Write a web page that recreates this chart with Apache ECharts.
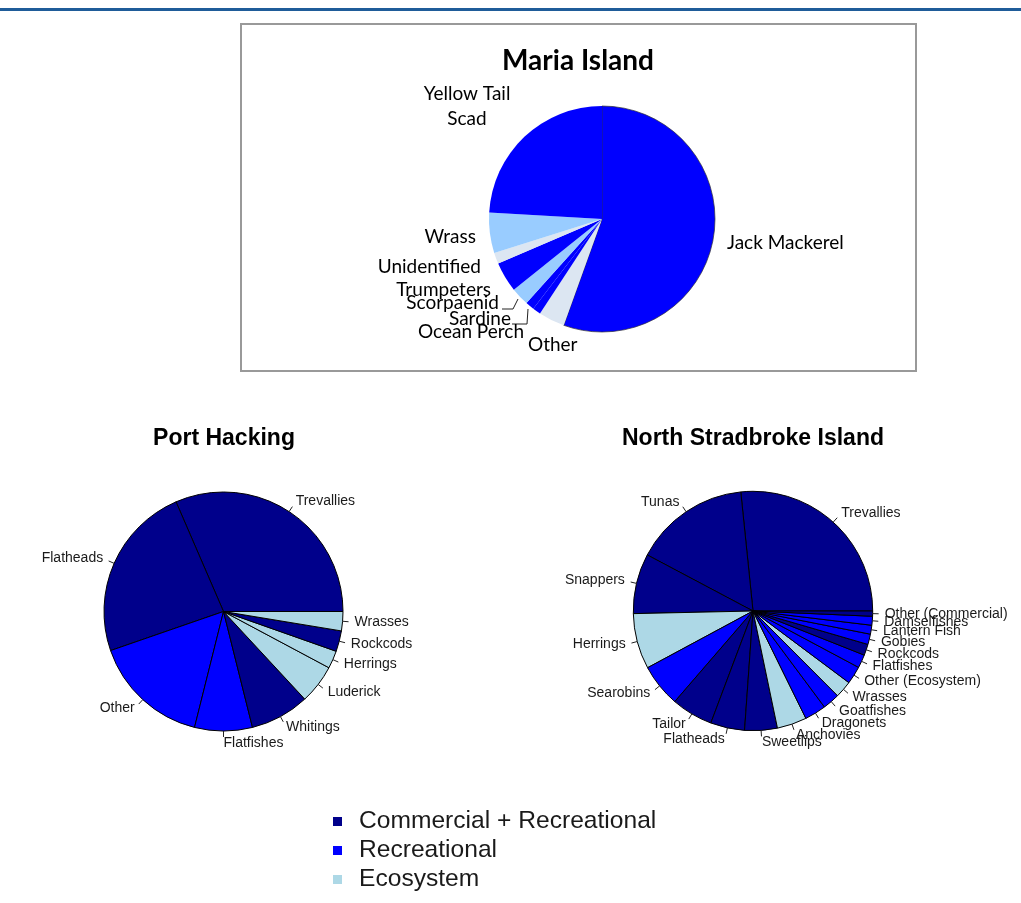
<!DOCTYPE html>
<html><head><meta charset="utf-8">
<script src="https://cdn.jsdelivr.net/npm/echarts@6/dist/echarts.min.js"></script>
<style>html,body{margin:0;padding:0;background:#fff}#c{width:1021px;height:903px}</style>
</head><body><div id="c"></div>
<script>
// ---------- data ----------
const mariaNames  = ['Jack Mackerel','Other','Ocean Perch','Sardine','Scorpaenid','Trumpeters','Unidentified','Wrass','Yellow Tail Scad'];
const mariaValues = [55.5, 3.75, 1.15, 1.25, 2.6, 4.3, 1.6, 5.75, 24.1];
const mariaGroups = ['R','O','R','R','E','R','O','E','R'];

const phNames  = ['Trevallies','Flatheads','Other','Flatfishes','Whitings','Luderick','Herrings','Rockcods','Wrasses'];
const phValues = [31.5, 23.8, 15.8, 7.8, 8.0, 5.3, 2.4, 2.8, 2.6];
const phGroups = ['CR','CR','R','R','CR','E','E','CR','E'];

const nsiNames  = ['Trevallies','Tunas','Snappers','Herrings','Searobins','Tailor','Flatheads','Sweetlips','Anchovies','Dragonets','Goatfishes','Wrasses','Other (Ecosystem)','Flatfishes','Rockcods','Gobies','Lantern Fish','Damselfishes','Other (Commercial)'];
const nsiValues = [26.6, 15.6, 8.1, 7.5, 5.8, 5.6, 4.6, 4.4, 4.0, 2.9, 2.3, 2.3, 2.4, 1.8, 1.5, 1.4, 1.2, 1.2, 0.7];
const nsiGroups = ['CR','CR','CR','E','R','CR','CR','CR','E','R','R','E','R','R','CR','R','R','R','CR'];

const legendNames  = ['Commercial + Recreational','Recreational','Ecosystem'];
const legendGroups = ['CR','R','E'];

// ---------- styles / layout ----------
const groupColor = {CR:'#00008B', R:'#0000FF', E:'#ADD8E6'};
const mariaColor = {R:'#0000FF', E:'#99CCFF', O:'#DCE6F2'};
const mariaLabelPos = {
  'Jack Mackerel':[727,243,'left'], 'Other':[528,345,'left'], 'Ocean Perch':[524,332,'right'],
  'Sardine':[511,319,'right'], 'Scorpaenid':[499,303,'right'], 'Trumpeters':[491,290,'right'],
  'Unidentified':[481,267,'right'], 'Wrass':[476,237,'right'], 'Yellow Tail Scad':[467,106,'center']
};
const mariaLeaders = {
  'Scorpaenid':[[502,309],[513,309],[518,299]],
  'Sardine':[[512,324],[527,324],[528,309]]
};

const RFONT = 'Liberation Sans, Arial, sans-serif';
const CFONT = 'Lato, Carlito, Calibri, sans-serif';
const noHide = {hideOverlap:false, moveOverlap:null};

function rPie(names, values, groups, center, r) {
  const data = names.map((n,i)=>({name:n, value:values[i], itemStyle:{color:groupColor[groups[i]]}}));
  const labels = {
    type:'pie', center:center, radius:r, startAngle:0, clockwise:false, avoidLabelOverlap:false,
    silent:true, animation:false, labelLayout:noHide,
    itemStyle:{borderColor:'#000', borderWidth:1},
    label:{show:true, position:'outside', fontFamily:RFONT, fontSize:14, color:'#1a1a1a', distanceToLabelLine:0},
    labelLine:{show:false, length:r*0.1, length2:0.01},
    emphasis:{disabled:true},
    data:data
  };
  const ticks = {
    type:'pie', center:center, radius:r, startAngle:0, clockwise:false, avoidLabelOverlap:false,
    silent:true, animation:false, z:3, labelLayout:noHide,
    itemStyle:{color:'rgba(0,0,0,0)', borderWidth:0},
    label:{show:true, position:'outside', formatter:' ', fontSize:2},
    labelLine:{show:true, length:r*0.05, length2:0.01, lineStyle:{color:'#222', width:1}},
    emphasis:{disabled:true},
    data:names.map((n,i)=>({name:n, value:values[i]}))
  };
  return [labels, ticks];
}

const mariaData = mariaNames.map((n,i)=>{
  const d = {name:n, value:mariaValues[i], itemStyle:{color:mariaColor[mariaGroups[i]]}};
  if (n === 'Jack Mackerel') { d.itemStyle.borderColor = '#333'; d.itemStyle.borderWidth = 0.7; }
  if (n === 'Yellow Tail Scad') d.label = {formatter:'Yellow Tail\nScad', lineHeight:25, align:'center'};
  if (mariaLeaders[n]) d.labelLine = {show:true, lineStyle:{color:'#222', width:1}};
  return d;
});

const chart = echarts.init(document.getElementById('c'), null, {renderer:'canvas'});
chart.setOption({
  animation:false,
  backgroundColor:'#fff',
  title:[
    {text:'Maria Island', left:578, top:47, textAlign:'center', padding:0,
     textStyle:{fontFamily:CFONT, fontWeight:'bold', fontSize:28, color:'#000'}},
    {text:'Port Hacking', left:224, top:427, textAlign:'center', padding:0,
     textStyle:{fontFamily:RFONT, fontWeight:'bold', fontSize:23, color:'#000'}},
    {text:'North Stradbroke Island', left:753, top:427, textAlign:'center', padding:0,
     textStyle:{fontFamily:RFONT, fontWeight:'bold', fontSize:23, color:'#000'}}
  ],
  legend:{orient:'vertical', left:333, top:809, itemWidth:9, itemHeight:9, itemGap:4, icon:'rect',
    padding:0, selectedMode:false, data:legendNames,
    textStyle:{fontFamily:RFONT, fontSize:24.6, color:'#1a1a1a', padding:[0,0,0,12]}},
  graphic:[
    {type:'rect', shape:{x:0, y:8, width:1021, height:3}, style:{fill:'#1F5C99'}},
    {type:'rect', shape:{x:241, y:24, width:675, height:347}, style:{fill:'none', stroke:'#999', lineWidth:2}}
  ],
  series:[
    {type:'pie', center:[602,219], radius:113, startAngle:90, clockwise:true, avoidLabelOverlap:false,
     silent:true, animation:false, emphasis:{disabled:true},
     label:{show:true, position:'outside', fontFamily:CFONT, fontSize:19, color:'#000'},
     labelLine:{show:false},
     labelLayout:function(p){
       const n = mariaNames[p.dataIndex];
       const pos = mariaLabelPos[n];
       const o = {x:pos[0], y:pos[1], align:pos[2], verticalAlign:'middle', hideOverlap:false};
       if (mariaLeaders[n]) o.labelLinePoints = mariaLeaders[n];
       return o;
     },
     data:mariaData},
    ...rPie(phNames, phValues, phGroups, [223.5,611.5], 119.5),
    ...rPie(nsiNames, nsiValues, nsiGroups, [753,611], 119.7),
    {type:'pie', name:'groups', center:[-200,-200], radius:1, silent:true, label:{show:false}, labelLine:{show:false},
     data:legendNames.map((n,i)=>({name:n, value:1, itemStyle:{color:groupColor[legendGroups[i]]}}))}
  ]
});
</script></body></html>
